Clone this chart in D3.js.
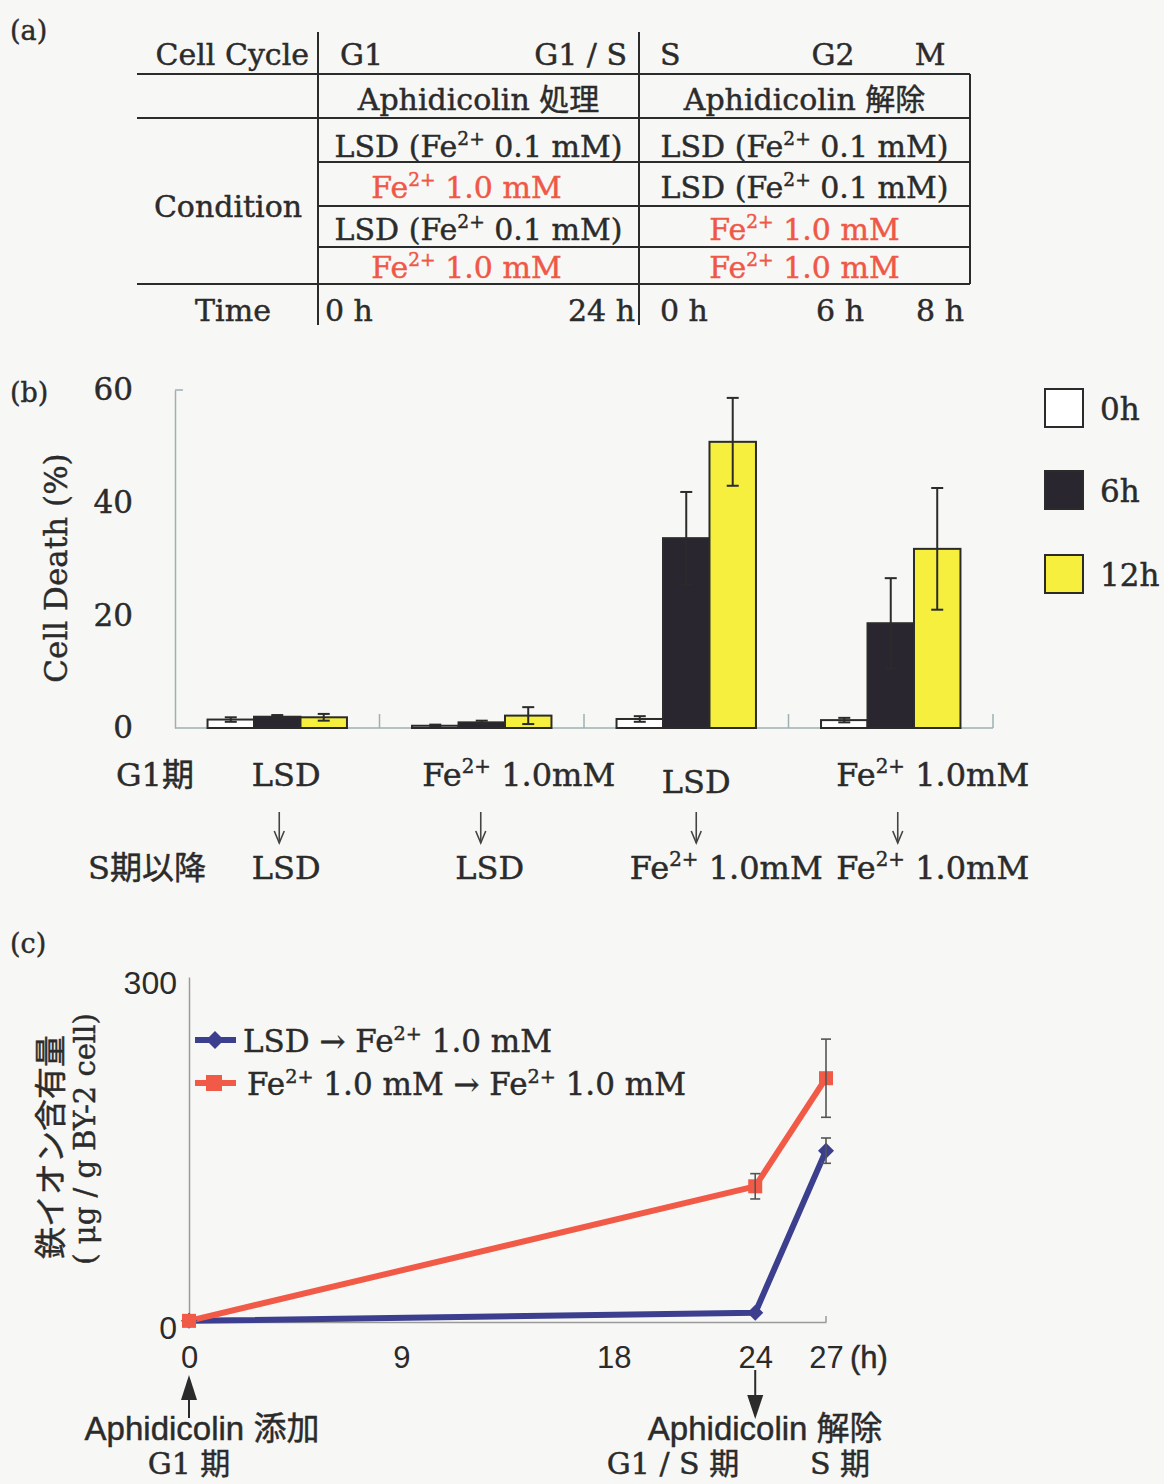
<!DOCTYPE html>
<html><head><meta charset="utf-8">
<script src="https://cdn.jsdelivr.net/npm/d3@7"></script>
<style>
html,body{margin:0;padding:0;background:#f7f7f5;}
svg{display:block;}
</style></head>
<body><svg id="c" width="1164" height="1484"></svg>
<script>
// ---------------- DATA ----------------
// (a) table
const phaseLabels = ["G1", "G1 / S", "S", "G2", "M"];
const treatmentLabels = ["Aphidicolin 処理", "Aphidicolin 解除"];
const conditionG1 = ["LSD (Fe^{2+} 0.1 mM)", "Fe^{2+} 1.0 mM", "LSD (Fe^{2+} 0.1 mM)", "Fe^{2+} 1.0 mM"];
const conditionS  = ["LSD (Fe^{2+} 0.1 mM)", "LSD (Fe^{2+} 0.1 mM)", "Fe^{2+} 1.0 mM", "Fe^{2+} 1.0 mM"];
const timeLabels = ["0 h", "24 h", "0 h", "6 h", "8 h"];

// (b) cell death bar chart
const categories = ["LSD→LSD", "Fe→LSD", "LSD→Fe", "Fe→Fe"];
const g1Labels = ["LSD", "Fe^{2+} 1.0mM", "LSD", "Fe^{2+} 1.0mM"];
const sLabels  = ["LSD", "LSD", "Fe^{2+} 1.0mM", "Fe^{2+} 1.0mM"];
const series = ["0h", "6h", "12h"];
const death0h  = [1.5, 0.4, 1.6, 1.4];
const death6h  = [2.0, 1.0, 33.7, 18.6];
const death12h = [1.9, 2.2, 50.8, 31.8];
const err0h  = [0.4, 0.2, 0.5, 0.4];
const err6h  = [0.3, 0.3, 8.2, 8.0];
const err12h = [0.6, 1.5, 7.8, 10.8];
const deathTicks = [0, 20, 40, 60];

// (c) iron content line chart
const hours = [0, 24, 27];
const lsdFe    = [1, 8, 149];
const lsdFeErr = [0, 0, 11];
const feFe     = [1, 118, 212];
const feFeErr  = [0, 11, 34];
const hourTicks = [0, 9, 18, 24, 27];
const ironTicks = [0, 300];
const lineSeries = ["LSD → Fe^{2+} 1.0 mM", "Fe^{2+} 1.0 mM → Fe^{2+} 1.0 mM"];

// ---------------- STYLE ----------------
const SERIF = "'DejaVu Serif','Noto Sans CJK JP',serif";
const SANS = "'Liberation Sans','Noto Sans CJK JP',Arial,sans-serif";
const CJK = "'Noto Sans CJK JP',sans-serif";
const INK = "#2b2b2b", RED = "#ef5846";
const BLUE_LINE = "#3b3f8e", RED_LINE = "#f25a48";

const svg = d3.select("#c");
svg.append("rect").attr("width", 1164).attr("height", 1484).attr("fill", "#f7f7f5");

function rich(sel, str, fs) {
  const parts = str.split(/(\^\{[^}]*\})/);
  let raised = false;
  parts.forEach(p => {
    if (!p) return;
    const m = p.match(/^\^\{([^}]*)\}$/);
    if (m) {
      sel.append("tspan").attr("dy", -0.4 * fs).attr("font-size", fs * 0.62).text(m[1]);
      raised = true;
    } else {
      const t = sel.append("tspan").text(p);
      if (raised) { t.attr("dy", 0.4 * fs); raised = false; }
    }
  });
  return sel;
}
function txt(x, y, str, o = {}) {
  const fs = o.fs || 30;
  const fill = o.fill || INK;
  const t = svg.append("text").attr("x", x).attr("y", y)
    .attr("font-family", o.ff || SERIF).attr("font-size", fs)
    .attr("fill", fill).attr("stroke", fill).attr("stroke-width", 0.45)
    .attr("text-anchor", o.anchor || "start");
  if (o.transform) t.attr("transform", o.transform);
  rich(t, str, fs);
  return t;
}
const isRed = s => s.startsWith("Fe");

// panel letters
txt(10, 40, "(a)", {fs: 27});
txt(10, 402, "(b)", {fs: 27});
txt(10, 953, "(c)", {fs: 27});

// ---------------- (a) TABLE ----------------
const TX = {x0: 137, xa: 318, xb: 639, x1: 970};
const TY = [32, 74, 118, 162, 206, 247, 284, 325];
const tg = svg.append("g").attr("stroke", INK).attr("stroke-width", 2);
[[TY[1], TX.x0], [TY[2], TX.x0], [TY[3], TX.xa], [TY[4], TX.xa], [TY[5], TX.xa], [TY[6], TX.x0]]
  .forEach(([y, xs]) => tg.append("line").attr("x1", xs).attr("x2", TX.x1).attr("y1", y).attr("y2", y));
[TX.xa, TX.xb].forEach(x => tg.append("line").attr("x1", x).attr("x2", x).attr("y1", TY[0]).attr("y2", TY[7]));
tg.append("line").attr("x1", TX.x1).attr("x2", TX.x1).attr("y1", TY[1]).attr("y2", TY[6]);

txt(309, 65, "Cell Cycle", {anchor: "end"});
const phasePos = [[340, "start"], [627, "end"], [660, "start"], [833, "middle"], [930, "middle"]];
phaseLabels.forEach((p, i) => txt(phasePos[i][0], 65, p, {anchor: phasePos[i][1]}));
const colCenters = [(TX.xa + TX.xb) / 2, (TX.xb + TX.x1) / 2];
treatmentLabels.forEach((t, i) => txt(colCenters[i], 110, t, {anchor: "middle"}));
const rowBase = [157, 198, 240, 278];
conditionG1.forEach((c, i) => txt(colCenters[0] - (isRed(c) ? 12 : 0), rowBase[i], c, {anchor: "middle", fill: isRed(c) ? RED : INK}));
conditionS.forEach((c, i) => txt(colCenters[1], rowBase[i], c, {anchor: "middle", fill: isRed(c) ? RED : INK}));
txt(228, 217, "Condition", {anchor: "middle"});
txt(233, 321, "Time", {anchor: "middle"});
const timePos = [[325, "start"], [635, "end"], [660, "start"], [840, "middle"], [940, "middle"]];
timeLabels.forEach((t, i) => txt(timePos[i][0], 321, t, {anchor: timePos[i][1]}));

// ---------------- (b) BAR CHART ----------------
const yB = d3.scaleLinear().domain([0, 60]).range([728, 390]);
const xB = d3.scaleBand().domain(categories).range([175, 993]);
const xSub = d3.scaleBand().domain(series).range([0, xB.bandwidth()]).paddingOuter(0.7);
const vals = [death0h, death6h, death12h];
const errs = [err0h, err6h, err12h];
const fills = ["#ffffff", "#2a2630", "#f6ef3e"];
const AX = "#9fb0b2";

const bg = svg.append("g");
const yAxisB = d3.axisLeft(yB).tickValues(deathTicks).tickSize(0).tickPadding(42).tickSizeOuter(0);
const ya = bg.append("g").attr("transform", "translate(175,0)").call(yAxisB);
ya.select(".domain").attr("stroke", AX).attr("stroke-width", 1.5);
ya.selectAll("text").attr("font-family", SERIF).attr("font-size", 31).attr("fill", INK).attr("stroke", INK).attr("stroke-width", 0.45);
bg.append("line").attr("x1", 175).attr("x2", 183).attr("y1", yB(60)).attr("y2", yB(60)).attr("stroke", AX).attr("stroke-width", 1.5);
bg.append("line").attr("x1", 175).attr("x2", 993).attr("y1", yB(0)).attr("y2", yB(0)).attr("stroke", AX).attr("stroke-width", 1.5);
categories.forEach(c => {
  const x = xB(c) + xB.bandwidth();
  bg.append("line").attr("x1", x).attr("x2", x).attr("y1", yB(0)).attr("y2", yB(0) - 14).attr("stroke", AX).attr("stroke-width", 1.5);
});
categories.forEach((c, i) => {
  series.forEach((s, j) => {
    const v = vals[j][i], e = errs[j][i];
    const x = xB(c) + xSub(s), w = xSub.bandwidth();
    bg.append("rect").attr("x", x).attr("y", yB(v)).attr("width", w).attr("height", yB(0) - yB(v))
      .attr("fill", fills[j]).attr("stroke", INK).attr("stroke-width", 2);
    const cx = x + w / 2, cap = 6;
    const eg = bg.append("g").attr("stroke", INK).attr("stroke-width", 2);
    eg.append("line").attr("x1", cx).attr("x2", cx).attr("y1", yB(v - e)).attr("y2", yB(v + e));
    eg.append("line").attr("x1", cx - cap).attr("x2", cx + cap).attr("y1", yB(v + e)).attr("y2", yB(v + e));
    eg.append("line").attr("x1", cx - cap).attr("x2", cx + cap).attr("y1", yB(v - e)).attr("y2", yB(v - e));
  });
});
txt(0, 0, "Cell Death (%)", {anchor: "middle", fs: 31, transform: "translate(67,568) rotate(-90)"});
const legTop = [389, 471, 555];
series.forEach((s, j) => {
  svg.append("rect").attr("x", 1045).attr("y", legTop[j]).attr("width", 38).attr("height", 38)
    .attr("fill", fills[j]).attr("stroke", INK).attr("stroke-width", 2);
  txt(1100, legTop[j] + 31, s, {fs: 31});
});
const row1Off = [9, 37, 10, 42], row1Base = [786, 786, 793, 786];
const row2Off = [9, 8, 40, 42];
const arrowOff = [2, -1, 10, 7];
txt(155, 786, "G1期", {anchor: "middle", fs: 32});
txt(147, 879, "S期以降", {anchor: "middle", fs: 32});
categories.forEach((c, i) => {
  const cx = xB(c) + xB.bandwidth() / 2;
  txt(cx + row1Off[i], row1Base[i], g1Labels[i], {anchor: "middle", fs: 32});
  txt(cx + row2Off[i], 879, sLabels[i], {anchor: "middle", fs: 32});
  const ax = cx + arrowOff[i];
  const ag = svg.append("g").attr("stroke", "#444").attr("stroke-width", 1.6).attr("fill", "none");
  ag.append("line").attr("x1", ax).attr("x2", ax).attr("y1", 812).attr("y2", 843);
  ag.append("path").attr("d", `M${ax - 5},831 L${ax},843 L${ax + 5},831`);
});

// ---------------- (c) LINE CHART ----------------
const xC = d3.scaleLinear().domain([0, 27]).range([189, 826]);
const yC = d3.scaleLinear().domain([0, 300]).range([1322, 977]);
const AXC = "#9a9a9a";
const cg = svg.append("g");
const yAxisC = d3.axisLeft(yC).tickValues(ironTicks).tickSize(0).tickPadding(12).tickSizeOuter(0);
const yca = cg.append("g").attr("transform", `translate(${xC(0)},0)`).call(yAxisC);
yca.select(".domain").attr("stroke", AXC).attr("stroke-width", 1.5);
yca.selectAll("text").attr("font-family", SANS).attr("font-size", 32).attr("fill", INK).attr("dy", "0.5em");
const xAxisC = d3.axisBottom(xC).tickValues(hourTicks).tickSize(0).tickPadding(24).tickSizeOuter(0);
const xca = cg.append("g").attr("transform", `translate(0,${yC(0)})`).call(xAxisC);
xca.select(".domain").attr("stroke", AXC).attr("stroke-width", 1.5);
xca.selectAll("text").attr("font-family", SANS).attr("font-size", 31).attr("fill", INK);
cg.append("line").attr("x1", xC(27)).attr("x2", xC(27)).attr("y1", yC(0)).attr("y2", yC(0) - 6).attr("stroke", AXC).attr("stroke-width", 1.5);
txt(xC(27) + 24, 1368, "(h)", {ff: SANS, fs: 31});

const lineGen = d3.line().x(d => xC(d[0])).y(d => yC(d[1]));
const blueData = hours.map((h, i) => [h, lsdFe[i], lsdFeErr[i]]);
const redData = hours.map((h, i) => [h, feFe[i], feFeErr[i]]);
cg.append("path").attr("d", lineGen(blueData)).attr("fill", "none").attr("stroke", BLUE_LINE).attr("stroke-width", 6).attr("stroke-linejoin", "round");
cg.append("path").attr("d", lineGen(redData)).attr("fill", "none").attr("stroke", RED_LINE).attr("stroke-width", 6).attr("stroke-linejoin", "round");
function errBars(data) {
  data.forEach(d => {
    if (!d[2]) return;
    const x = xC(d[0]), g = cg.append("g").attr("stroke", "#555").attr("stroke-width", 1.6);
    g.append("line").attr("x1", x).attr("x2", x).attr("y1", yC(d[1] - d[2])).attr("y2", yC(d[1] + d[2]));
    [d[1] - d[2], d[1] + d[2]].forEach(v => g.append("line").attr("x1", x - 5).attr("x2", x + 5).attr("y1", yC(v)).attr("y2", yC(v)));
  });
}
const diamond = (x, y, r) => `M${x},${y - r} L${x + r},${y} L${x},${y + r} L${x - r},${y} Z`;
blueData.forEach(d => cg.append("path").attr("d", diamond(xC(d[0]), yC(d[1]), 8)).attr("fill", BLUE_LINE));
redData.forEach(d => cg.append("rect").attr("x", xC(d[0]) - 7).attr("y", yC(d[1]) - 7).attr("width", 14).attr("height", 14).attr("fill", RED_LINE));
errBars(blueData);
errBars(redData);

const legY = [1040, 1083];
const legCol = [BLUE_LINE, RED_LINE];
lineSeries.forEach((s, i) => {
  svg.append("line").attr("x1", 195).attr("x2", 236).attr("y1", legY[i]).attr("y2", legY[i]).attr("stroke", legCol[i]).attr("stroke-width", 6);
  if (i === 0) svg.append("path").attr("d", diamond(215, legY[i], 9)).attr("fill", legCol[i]);
  else svg.append("rect").attr("x", 206).attr("y", legY[i] - 8).attr("width", 16).attr("height", 16).attr("fill", legCol[i]);
  txt(i === 0 ? 243 : 247, legY[i] + 12, s, {fs: 31});
});

txt(0, 0, "鉄イオン含有量", {ff: CJK, fs: 32, anchor: "middle", transform: "translate(62,1147) rotate(-90)"});
txt(0, 0, "( μg / g BY-2 cell)", {fs: 29, anchor: "middle", transform: "translate(95,1139) rotate(-90)"});

const a0 = xC(0), a24 = xC(24);
svg.append("path").attr("d", `M${a0},1375 L${a0 + 8},1400 L${a0 - 8},1400 Z`).attr("fill", INK);
svg.append("line").attr("x1", a0).attr("x2", a0).attr("y1", 1398).attr("y2", 1418).attr("stroke", INK).attr("stroke-width", 2);
svg.append("line").attr("x1", a24).attr("x2", a24).attr("y1", 1370).attr("y2", 1398).attr("stroke", INK).attr("stroke-width", 2);
svg.append("path").attr("d", `M${a24 - 8},1395 L${a24 + 8},1395 L${a24},1419 Z`).attr("fill", INK);
txt(a0 + 13, 1440, "Aphidicolin 添加", {ff: SANS, fs: 33, anchor: "middle"});
txt(a0, 1474, "G1 期", {fs: 30, anchor: "middle"});
txt(a24 + 10, 1440, "Aphidicolin 解除", {ff: SANS, fs: 33, anchor: "middle"});
txt(673, 1474, "G1 / S 期", {fs: 30, anchor: "middle"});
txt(840, 1474, "S 期", {fs: 30, anchor: "middle"});
</script>
</body></html>
